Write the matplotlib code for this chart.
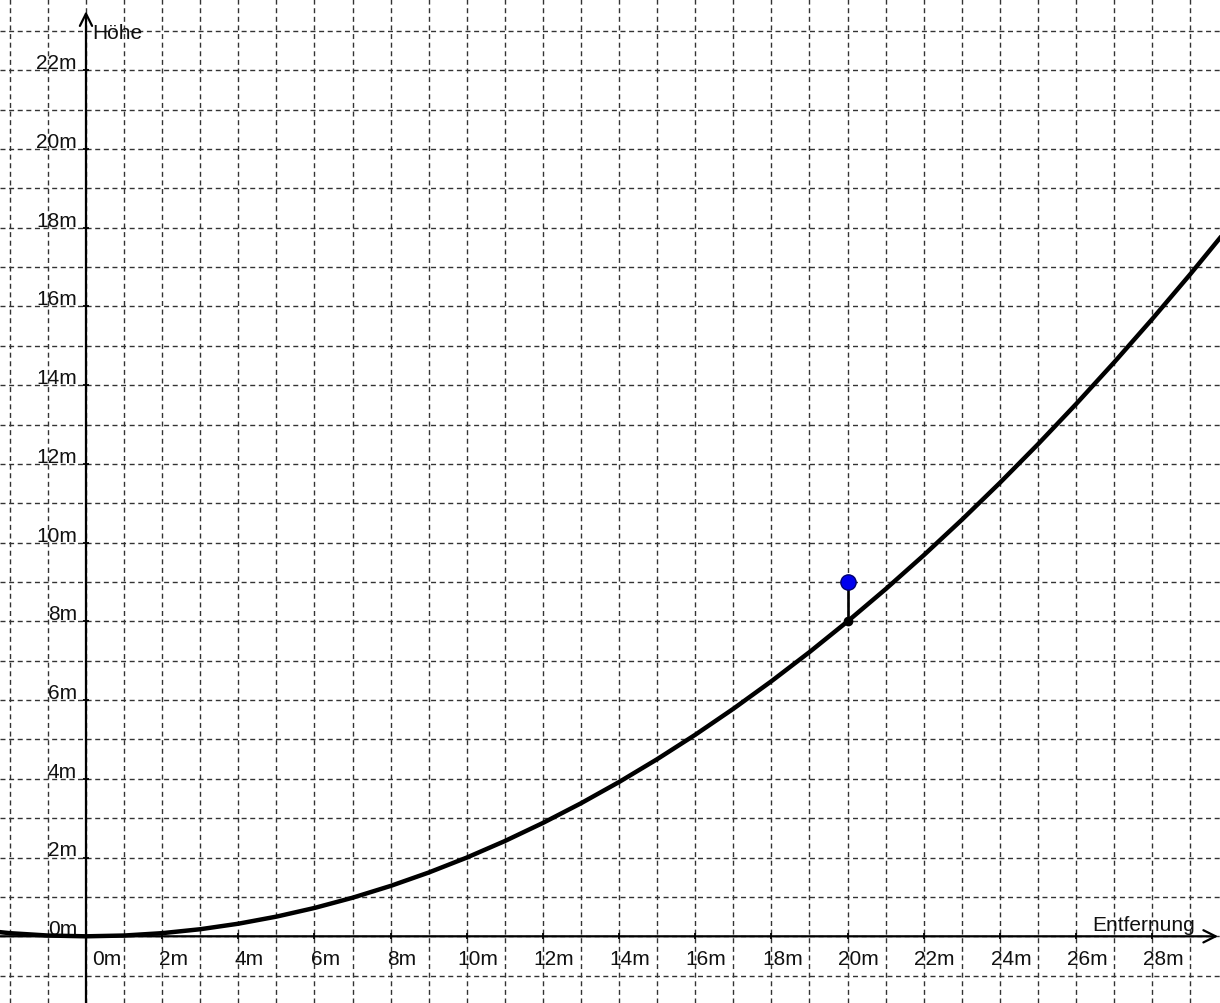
import numpy as np
import matplotlib.pyplot as plt

plt.rcParams['font.family'] = ['Liberation Sans', 'DejaVu Sans']

# curve (distance in m, height in m)
dist = [-3, -2, -1, 0, 1, 2, 3, 4, 5, 6, 7, 8, 9, 10, 11, 12, 13, 14, 15, 16,
        17, 18, 19, 20, 21, 22, 23, 24, 25, 26, 27, 28, 29, 30]
height = [0.18, 0.08, 0.02, 0.0, 0.02, 0.08, 0.18, 0.32, 0.5, 0.72, 0.98, 1.28,
          1.62, 2.0, 2.42, 2.88, 3.38, 3.92, 4.5, 5.12, 5.78, 6.48, 7.22, 8.0,
          8.82, 9.68, 10.58, 11.52, 12.5, 13.52, 14.58, 15.68, 16.82, 18.0]

# point above the curve and its foot on the curve
point_x = 20
point_y = 9
foot_y = 8

x_ticks = list(range(0, 30, 2))
y_ticks = list(range(0, 24, 2))
x_label = 'Entfernung'
y_label = 'Höhe'

xmin, xmax = -2.258, 29.78
ymin, ymax = -1.694, 23.81

fig = plt.figure(figsize=(12.2, 10.04), dpi=100)
ax = fig.add_axes([0, 0, 1, 1])
ax.set_xlim(xmin, xmax)
ax.set_ylim(ymin, ymax)

# dashed 1m grid
ax.set_xticks(np.arange(-2, 30))
ax.set_yticks(np.arange(-1, 24))
ax.tick_params(length=0, labelbottom=False, labelleft=False)
ax.grid(True, color='#333333', lw=1.0, linestyle=(0, (3.6, 2.6)))
for s in ax.spines.values():
    s.set_visible(False)

# axes with arrows
ax.annotate('', xy=(29.73, 0), xytext=(xmin, 0),
            arrowprops=dict(arrowstyle='->', lw=1.6, color='black',
                            mutation_scale=22, shrinkA=0, shrinkB=0))
ax.annotate('', xy=(0, 23.5), xytext=(0, ymin),
            arrowprops=dict(arrowstyle='->', lw=1.6, color='black',
                            mutation_scale=22, shrinkA=0, shrinkB=0))

# tick marks on the axes
ax.plot(x_ticks, [0] * len(x_ticks), ls='none', marker='|', ms=5, mew=1.3, color='black')
ax.plot([0] * len(y_ticks), y_ticks, ls='none', marker='_', ms=5, mew=1.3, color='black')

# tick labels
for xt in x_ticks:
    if xt == 0:
        ax.annotate(f'{xt}m', (xt, 0), xytext=(4.3, -9.4), textcoords='offset points',
                    ha='left', va='top', fontsize=15, color='#111')
    else:
        ax.annotate(f'{xt}m', (xt, 0), xytext=(7.9, -9.4), textcoords='offset points',
                    ha='center', va='top', fontsize=15, color='#111')
for yt in y_ticks:
    ax.annotate(f'{yt}m', (0, yt), xytext=(-6.5, 1.5), textcoords='offset points',
                ha='right', va='baseline', fontsize=15, color='#111')

ax.text(0.158, 22.82, y_label, ha='left', va='baseline', fontsize=15, color='#111')
ax.text(29.12, 0.16, x_label, ha='right', va='baseline', fontsize=15, color='#111')

# curve
ax.plot(dist, height, color='black', lw=3.2, solid_capstyle='round', zorder=4)

# segment and points
ax.plot([point_x, point_x], [foot_y, point_y], color='black', lw=1.9, zorder=5)
ax.plot(point_x, foot_y, 'o', color='black', ms=6, zorder=6)
ax.plot(point_x, point_y, 'o', color='#0000ee', mec='#00006e', mew=1, ms=11, zorder=6)

fig.savefig('out.png', dpi=100)
